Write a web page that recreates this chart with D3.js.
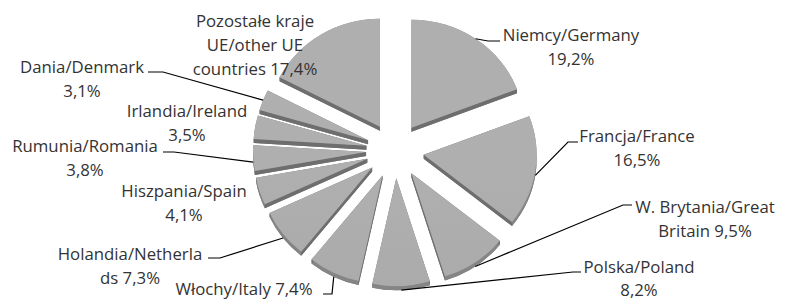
<!DOCTYPE html>
<html>
<head>
<meta charset="utf-8">
<script src="https://cdn.jsdelivr.net/npm/d3@7"></script>
<style>
  html, body { margin: 0; padding: 0; background: #fff; }
  svg { display: block; }
  text { font-family: "Open Sans", Lato, sans-serif; font-size: 16.8px; fill: #333; }
</style>
</head>
<body>
<div id="chart"></div>
<script>
// data
var categories = ["Niemcy/Germany", "Francja/France", "W. Brytania/Great Britain", "Polska/Poland",
  "Włochy/Italy", "Holandia/Netherlands", "Hiszpania/Spain", "Rumunia/Romania",
  "Irlandia/Ireland", "Dania/Denmark", "Pozostałe kraje UE/other UE countries"];
var values = [19.2, 16.5, 9.5, 8.2, 7.4, 7.3, 4.1, 3.8, 3.5, 3.1, 17.4];
var labelLines = [
  ["Niemcy/Germany", "19,2%"],
  ["Francja/France", "16,5%"],
  ["W. Brytania/Great", "Britain 9,5%"],
  ["Polska/Poland", "8,2%"],
  ["Włochy/Italy 7,4%"],
  ["Holandia/Netherla", "ds 7,3%"],
  ["Hiszpania/Spain", "4,1%"],
  ["Rumunia/Romania", "3,8%"],
  ["Irlandia/Ireland", "3,5%"],
  ["Dania/Denmark", "3,1%"],
  ["Pozostałe kraje", "UE/other UE", "countries 17,4%"]
];

// layout: label centre / first baseline, leader elbow and end (null = no leader)
var labelLayout = [
  { x: 571, y: 41, elbow: [488, 41], end: [500, 41] },
  { x: 637, y: 142, elbow: [568, 142], end: [578, 142] },
  { x: 705, y: 213, elbow: [623, 205], end: [632, 205] },
  { x: 639, y: 272.5, elbow: [573, 272], end: [581, 272] },
  { x: 244, y: 295, elbow: [332, 294], end: [323, 294] },
  { x: 130, y: 260, elbow: [220, 258], end: [208, 258] },
  { x: 184, y: 197, elbow: null, end: null },
  { x: 85, y: 152, elbow: [174, 152], end: [163, 152] },
  { x: 187, y: 117, elbow: null, end: null },
  { x: 82, y: 73, elbow: [163, 72], end: [148, 72] },
  { x: 255, y: 27, elbow: null, end: null }
];

var W = 788, H = 299;
var cx = 395, cy = 150.5, rx = 113, ry = 108, k = ry / rx;
var explode = 29, depth = 4, lineH = 23.8;

var svg = d3.select("#chart").append("svg").attr("width", W).attr("height", H);

var grad = svg.append("defs").append("linearGradient").attr("id", "topFill")
  .attr("gradientUnits", "userSpaceOnUse").attr("x1", 0).attr("y1", 15).attr("x2", 0).attr("y2", 290);
grad.append("stop").attr("offset", "0%").attr("stop-color", "#afafaf");
grad.append("stop").attr("offset", "100%").attr("stop-color", "#a3a3a3");

var arcs = d3.pie().sort(null).value(function(d) { return d; })(values);
var arcGen = d3.arc().innerRadius(0).outerRadius(rx);

arcs.forEach(function(d, i) {
  var m = (d.startAngle + d.endAngle) / 2;
  d.mid = m;
  d.ox = cx + explode * Math.sin(m);
  d.oy = cy - explode * Math.cos(m) * k;
  d.order = d.oy - Math.cos(m) * ry * 0.5;
  d.idx = i;
});

var tk = depth / k;
var drawOrder = arcs.slice().sort(function(a, b) { return a.order - b.order; });

var slices = svg.append("g").attr("class", "slices");
drawOrder.forEach(function(d) {
  var g = slices.append("g").attr("transform", "translate(" + d.ox + "," + d.oy + ") scale(1," + k + ")");
  // bottom face
  g.append("path").attr("d", arcGen(d)).attr("transform", "translate(0," + tk + ")").attr("fill", "#767676");
  // outer rim
  var p = d3.path(), a0 = d.startAngle - Math.PI / 2, a1 = d.endAngle - Math.PI / 2;
  p.moveTo(rx * Math.cos(a0), rx * Math.sin(a0));
  p.arc(0, 0, rx, a0, a1);
  p.lineTo(rx * Math.cos(a1), rx * Math.sin(a1) + tk);
  p.arc(0, tk, rx, a1, a0, true);
  p.closePath();
  g.append("path").attr("d", p.toString()).attr("fill", "#858585");
  // radial faces
  [d.startAngle, d.endAngle].forEach(function(a) {
    var px = rx * Math.sin(a), py = -rx * Math.cos(a);
    g.append("path").attr("d", d3.line()([[0, 0], [px, py], [px, py + tk], [0, tk]]) + "Z")
      .attr("fill", "#6e6e6e");
  });
  // top face
  g.append("path").attr("d", arcGen(d)).attr("fill", "url(#topFill)");
});

// leader lines
var leaders = svg.append("g").attr("class", "leaders");
arcs.forEach(function(d, i) {
  var L = labelLayout[i];
  if (!L.elbow) return;
  var sx = d.ox + rx * Math.sin(d.mid);
  var sy = d.oy - ry * Math.cos(d.mid) + (Math.cos(d.mid) < 0 ? depth : 0);
  leaders.append("path")
    .attr("d", d3.line()([[sx, sy], L.elbow, L.end]))
    .attr("fill", "none").attr("stroke", "#000").attr("stroke-width", 1.2);
});

// labels
var labels = svg.append("g").attr("class", "labels");
labelLines.forEach(function(lines, i) {
  var L = labelLayout[i];
  var t = labels.append("text").attr("text-anchor", "middle");
  lines.forEach(function(s, j) {
    t.append("tspan").attr("x", L.x).attr("y", L.y + j * lineH).text(s);
  });
});
</script>
</body>
</html>
